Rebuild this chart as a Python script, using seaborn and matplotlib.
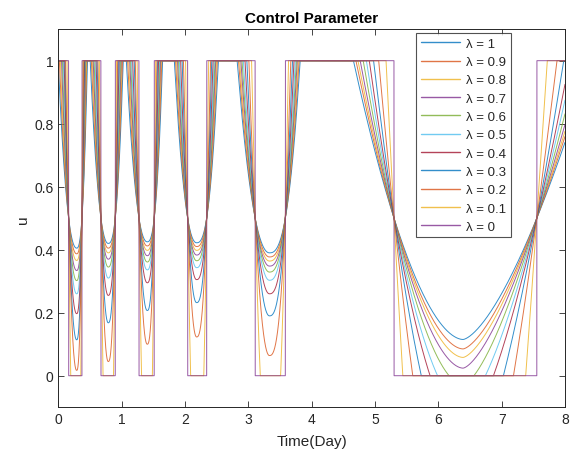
import numpy as np
import pandas as pd
import matplotlib
matplotlib.use("Agg")
import matplotlib.pyplot as plt
import seaborn as sns

# ---------------- data ----------------
lambdas = [1, 0.9, 0.8, 0.7, 0.6, 0.5, 0.4, 0.3, 0.2, 0.1, 0]
labels = [f"λ = {l:g}" for l in lambdas]
colors = ["#0072BD", "#D95319", "#EDB120", "#7E2F8E", "#77AC30", "#4DBEEE",
          "#A2142F", "#0072BD", "#D95319", "#EDB120", "#7E2F8E"]

# bang-bang switching intervals (u = 0 inside for lambda = 0), in days
dip_start = [0.161, 0.671, 1.272, 2.041, 3.107, 5.300]
dip_end = [0.371, 0.897, 1.513, 2.341, 3.583, 7.555]
dip_center = [0.288, 0.787, 1.403, 2.183, 3.333, 6.390]

# minimum of u in each dip for lambda = 1 ... 0.1 (negative = clipped at 0)
dip1_min = [0.405, 0.387, 0.366, 0.334, 0.302, 0.260, 0.197, 0.114, 0.017, -0.55]
dip2_min = [0.420, 0.405, 0.390, 0.370, 0.345, 0.310, 0.255, 0.168, 0.045, -0.45]
dip3_min = [0.425, 0.412, 0.398, 0.381, 0.361, 0.336, 0.295, 0.207, 0.100, -0.40]
dip4_min = [0.422, 0.410, 0.398, 0.383, 0.365, 0.343, 0.305, 0.232, 0.123, -0.35]
dip5_min = [0.390, 0.377, 0.364, 0.348, 0.329, 0.303, 0.260, 0.190, 0.064, -0.33]
dip6_min = [0.115, 0.085, 0.058, 0.024, -0.030, -0.100, -0.180, -0.340, -0.650, -1.80]
dip_mins = [dip1_min, dip2_min, dip3_min, dip4_min, dip5_min, dip6_min]

# curve shape exponents (left / right flank) per dip
shape_left = [2.2, 2.2, 2.2, 2.2, 2.1, 1.8]
shape_right = [2.6, 2.6, 2.6, 2.6, 2.6, 1.5]

# ---------------- build curves ----------------
t = np.linspace(0, 8, 8001)
frames = []
for k, (lam, lab) in enumerate(zip(lambdas, labels)):
    if lam == 0:
        u = np.ones_like(t)
        for a, b in zip(dip_start, dip_end):
            u[(t >= a) & (t <= b)] = 0.0
    else:
        f = np.full_like(t, np.inf)
        for d in range(len(dip_start)):
            a, b, c = dip_start[d], dip_end[d], dip_center[d]
            depth = 0.5 - dip_mins[d][k]
            x = np.where(t < c, (c - t) / (c - a), (t - c) / (b - c))
            p = np.where(t < c, shape_left[d], shape_right[d])
            fd = 0.5 + depth * (x ** p - 1.0)
            f = np.minimum(f, fd)
        u = np.clip(f, 0, 1)
    frames.append(pd.DataFrame({"t": t, "u": u, "label": lab}))
df = pd.concat(frames, ignore_index=True)

# ---------------- plot ----------------
sns.set_style("white")
plt.rcParams["font.family"] = ["Liberation Sans", "DejaVu Sans"]

fig = plt.figure(figsize=(5.73, 4.56), dpi=100)
ax = fig.add_axes([0.102, 0.1048, 0.884, 0.829])

sns.lineplot(data=df, x="t", y="u", hue="label", hue_order=labels,
             palette=colors, estimator=None, sort=False, linewidth=0.7,
             alpha=0.8, ax=ax, legend=True)

ax.set_xlim(0, 8)
ax.set_ylim(-0.1, 1.1)
ax.set_xticks(range(0, 9))
ax.set_yticks([0, 0.2, 0.4, 0.6, 0.8, 1])
ax.set_yticklabels(["0", "0.2", "0.4", "0.6", "0.8", "1"])
dark = "#262626"
ax.tick_params(direction="in", length=4, width=0.6, colors=dark, labelsize=10,
               top=True, right=True, bottom=True, left=True,
               labelcolor=dark)
for s in ax.spines.values():
    s.set_color(dark)
    s.set_linewidth(0.7)
ax.set_xlabel("Time(Day)", fontsize=11, color=dark, labelpad=6)
ax.set_ylabel("u", fontsize=11, color=dark, labelpad=3)
ax.set_title("Control Parameter", fontsize=11, fontweight="bold", color="black", pad=5)

handles, labs = ax.get_legend_handles_labels()
leg = ax.legend(handles, labs, loc="upper right", bbox_to_anchor=(0.893, 0.99),
                borderaxespad=0, frameon=True, fancybox=False, fontsize=9.5,
                handlelength=3.0, handletextpad=0.45, labelspacing=0.46,
                borderpad=0.35)
leg.get_frame().set_edgecolor(dark)
leg.get_frame().set_linewidth(0.8)
for line in leg.get_lines():
    line.set_linewidth(1.0)
    line.set_alpha(0.8)

fig.savefig("out.png", dpi=100)
